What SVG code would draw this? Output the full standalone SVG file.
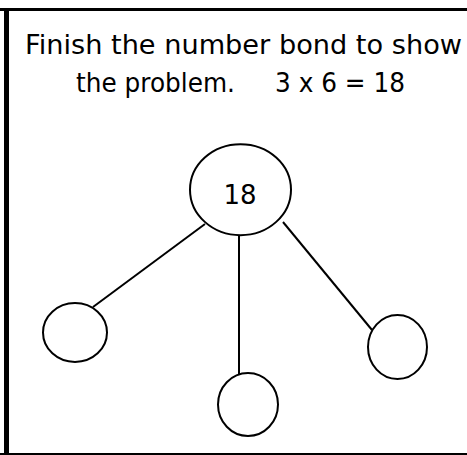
<svg xmlns="http://www.w3.org/2000/svg" width="467" height="455" viewBox="0 0 467 455">
<style>
.t{font-family:"DejaVu Sans","Liberation Sans",sans-serif;font-size:26px;fill:#000}
.n{fill:#fff;stroke:#000;stroke-width:2}
.c{stroke:#000;stroke-width:2;fill:none}
</style>
<rect width="467" height="455" fill="#fff"/>
<g id="frame">
<rect x="0" y="8" width="467" height="3" fill="#000"/>
<rect x="4" y="8" width="5" height="447" fill="#000"/>
<rect x="0" y="453" width="467" height="2" fill="#000"/>
</g>
<g id="title">
<text class="t" x="25" y="54" textLength="437" lengthAdjust="spacingAndGlyphs">Finish the number bond to show</text>
<text class="t" y="92"><tspan x="76" textLength="159" lengthAdjust="spacingAndGlyphs">the problem.</tspan><tspan x="275" textLength="130" lengthAdjust="spacingAndGlyphs">3 x 6 = 18</tspan></text>
</g>
<g id="connectors">
<line class="c" x1="205" y1="224" x2="93" y2="307"/>
<line class="c" x1="239" y1="235" x2="239" y2="375"/>
<line class="c" x1="283" y1="222" x2="372" y2="330"/>
</g>
<g id="node-whole">
<ellipse class="n" cx="240.5" cy="189.7" rx="50.5" ry="45.5"/>
<text class="t" x="240" y="204" text-anchor="middle" font-size="22">18</text>
</g>
<g id="node-left"><ellipse class="n" cx="75" cy="332.5" rx="32" ry="29.5"/></g>
<g id="node-middle"><ellipse class="n" cx="248" cy="404.5" rx="30" ry="31.5"/></g>
<g id="node-right"><ellipse class="n" cx="397.5" cy="347" rx="29.5" ry="32"/></g>
</svg>
